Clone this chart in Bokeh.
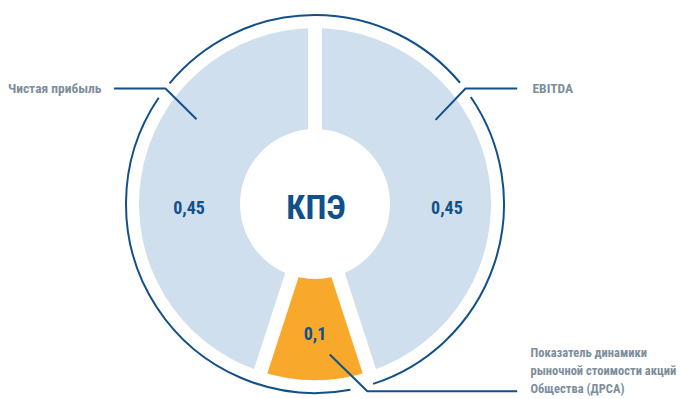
import numpy as np
from bokeh.plotting import figure
from bokeh.models import Range1d
from bokeh.core.properties import value
from bokeh.embed import file_html
from bokeh.resources import INLINE

# ---- data ----
categories = ["EBITDA",
              "Показатель динамики\nрыночной стоимости акций\nОбщества (ДРСА)",
              "Чистая прибыль"]
weights = [0.45, 0.1, 0.45]
value_labels = ["0,45", "0,1", "0,45"]
center_label = "КПЭ"

# ---- style / layout ----
seg_colors = ["#cfdfee", "#f8a82a", "#cfdfee"]
dark = "#12508a"
grey = "#7d8e9c"
FONT = value("'Roboto Condensed', 'Liberation Sans Narrow', Roboto, sans-serif")

W, H = 692, 399
REF_H = 399
cx, cy = 314.5, REF_H - 203.5
r_in, r_out, r_ring = 75, 176, 189
gap_w = 14

p = figure(width=W, height=H, output_backend="svg", toolbar_location=None,
           x_range=Range1d(0, W), y_range=Range1d(REF_H - H, REF_H),
           x_axis_type=None, y_axis_type=None, min_border=0)
p.grid.visible = False
p.outline_line_color = None
p.background_fill_color = "white"
p.border_fill_color = "white"

# wedges, clockwise from 12 o'clock
w = np.array(weights)
ends = np.pi / 2 - 2 * np.pi * np.concatenate([[0], np.cumsum(w)[:-1]])
starts = ends - 2 * np.pi * w
p.annular_wedge(x=cx, y=cy, inner_radius=r_in, outer_radius=r_out,
                start_angle=starts, end_angle=ends,
                fill_color=seg_colors, line_color=None)

# white parallel gaps between segments
rr = r_out + 5
p.segment(x0=[cx] * len(ends), y0=[cy] * len(ends),
          x1=cx + rr * np.cos(ends), y1=cy + rr * np.sin(ends),
          line_color="white", line_width=gap_w, line_cap="butt")

# callouts (polar anchor points, degrees), order follows categories
call_inner = [(147, 34.9), (151.2, -84.4), (145.7, 144.4)]
call_elbow = [(189.7, 37.5), (194.5, -74.4), (189, 142.3)]
call_end_x = [516.7, 516.7, 113.5]
ring_gaps = [(37.2, 2.7), (-75.65, 3.55), (143.05, 2.75)]

# outer ring, broken where the callouts cross it
g = sorted(ring_gaps)
arc_s, arc_e = [], []
for i in range(len(g)):
    a0 = g[i][0] + g[i][1]
    nxt = g[(i + 1) % len(g)]
    a1 = nxt[0] - nxt[1]
    if a1 <= a0:
        a1 += 360
    arc_s.append(np.radians(a0))
    arc_e.append(np.radians(a1))
p.arc(x=[cx] * len(arc_s), y=[cy] * len(arc_s), radius=r_ring,
      start_angle=arc_s, end_angle=arc_e, line_color=dark, line_width=2)

xs, ys = [], []
for (ri, ai), (re_, ae), xe in zip(call_inner, call_elbow, call_end_x):
    x0 = cx + ri * np.cos(np.radians(ai)); y0 = cy + ri * np.sin(np.radians(ai))
    x1 = cx + re_ * np.cos(np.radians(ae)); y1 = cy + re_ * np.sin(np.radians(ae))
    xs.append([x0, x1, xe]); ys.append([y0, y1, y1])
p.multi_line(xs=xs, ys=ys, line_color=dark, line_width=2)

# value labels inside segments
val_pos = [(132, -1.7), (129.5, -90), (126, 181.8)]
vx = [cx + r * np.cos(np.radians(a)) for r, a in val_pos]
vy = [cy + r * np.sin(np.radians(a)) for r, a in val_pos]
p.text(x=vx, y=vy, text=value_labels, text_font=FONT, text_font_style="bold",
       text_font_size="18px", text_color=dark, text_align="center",
       text_baseline="middle")

# center label
p.text(x=[cx + 1], y=[cy - 3], text=[center_label], text_font=FONT,
       text_font_style="bold", text_font_size="34px", text_color=dark,
       text_align="center", text_baseline="middle")

# category labels
lab_x = [532, 530, 101]
lab_y = [REF_H - 87.5, REF_H - 352, REF_H - 87.5]
lab_align = ["left", "left", "right"]
lab_size = ["13.5px", "12.5px", "13.5px"]
line_step = 18
tx, ty, tt, ta, ts = [], [], [], [], []
for c, x, y, al, sz in zip(categories, lab_x, lab_y, lab_align, lab_size):
    for k, line in enumerate(c.split("\n")):
        tx.append(x); ty.append(y - k * line_step); tt.append(line)
        ta.append(al); ts.append(sz)
p.text(x=tx, y=ty, text=tt, text_align=ta, text_font=FONT,
       text_font_style="bold", text_font_size=ts, text_color=grey,
       text_baseline="middle")

open("out.html", "w").write(file_html(p, INLINE))
